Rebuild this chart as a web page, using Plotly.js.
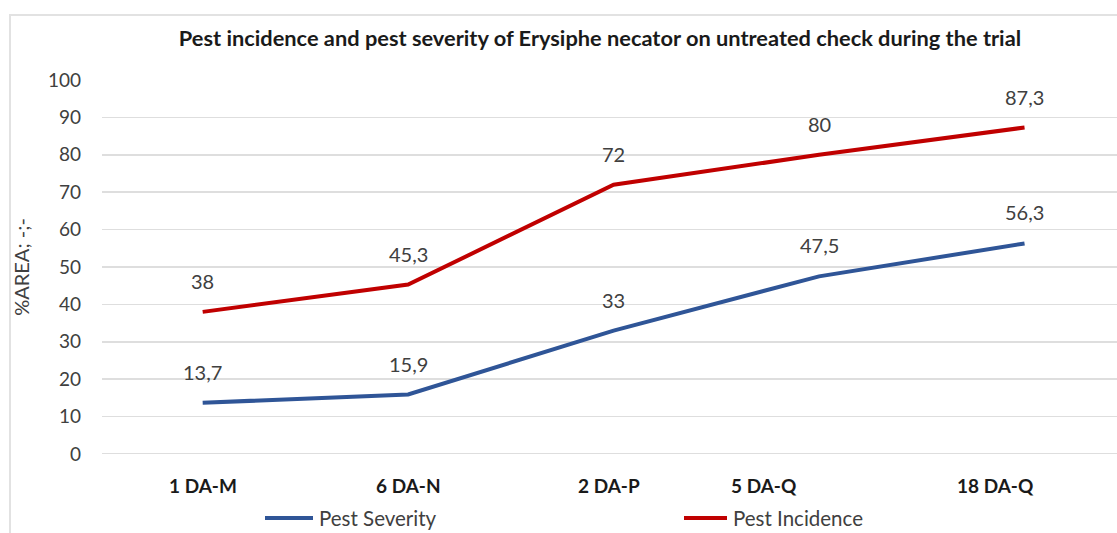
<!DOCTYPE html>
<html>
<head>
<meta charset="utf-8">
<script src="https://cdn.plot.ly/plotly-3.0.1.min.js"></script>
<style>
  html, body { margin: 0; padding: 0; background: #fff; }
  #wrap { position: relative; width: 1117px; height: 533px; overflow: hidden; }
  #chart { width: 1117px; height: 533px; }
  #frame { position: absolute; left: 9px; top: 14px; right: -5px; bottom: -5px;
           border-left: 2px solid #e2e2e2; border-top: 2px solid #e2e2e2; pointer-events: none; }
</style>
</head>
<body>
<div id="wrap">
  <div id="chart"></div>
  <div id="frame"></div>
</div>
<script>
const categories = ["1 DA-M", "6 DA-N", "2 DA-P", "5 DA-Q", "18 DA-Q"];
const pestSeverity = [13.7, 15.9, 33, 47.5, 56.3];
const pestIncidence = [38, 45.3, 72, 80, 87.3];
const yTicks = [0, 10, 20, 30, 40, 50, 60, 70, 80, 90, 100];
const seriesNames = ["Pest Severity", "Pest Incidence"];

// style
const colors = ["#2f5597", "#c00000"];
const labelXShift = [0, 0, -5, -55, -29];          // category label offsets (px)
const legendLinePx = [[265, 313], [684, 727]];      // legend sample positions (px)
const FONT = "Lato, 'Open Sans', sans-serif";
const W = 1117, H = 533, L = 102, R = 0, T = 80, B = 79;
const PW = W - L - R, PH = H - T - B;
const fmt = v => String(v).replace('.', ',');

const allSeries = [pestSeverity, pestIncidence];
const traces = allSeries.map((s, k) => ({
  x: categories, y: s, name: seriesNames[k], type: "scatter", mode: "lines",
  line: { color: colors[k], width: 4 }, showlegend: false
}));

const annotations = [];
allSeries.forEach(series => {
  series.forEach((v, i) => {
    annotations.push({ x: categories[i], y: v, xref: "x", yref: "y", text: fmt(v),
      showarrow: false, yshift: 31, yanchor: "middle",
      font: { family: FONT, size: 20, color: "#404040" } });
  });
});
categories.forEach((c, i) => {
  annotations.push({ x: c, y: 0, xref: "x", yref: "paper", text: "<b>" + c + "</b>",
    showarrow: false, yshift: -31, xshift: labelXShift[i], yanchor: "middle",
    font: { family: FONT, size: 19, color: "#1a1a1a" } });
});

// manual legend (line sample + name) built from series names and colours
const legendY = -(518 - (T + PH)) / PH;
const shapes = [{ type: "line", xref: "paper", yref: "y", x0: 0, x1: 1, y0: 0, y1: 0,
  line: { color: "#dedede", width: 2 }, layer: "below" }];
seriesNames.forEach((n, k) => {
  const [a, b] = legendLinePx[k];
  shapes.push({ type: "line", xref: "paper", yref: "paper",
    x0: (a - L) / PW, x1: (b - L) / PW, y0: legendY, y1: legendY,
    line: { color: colors[k], width: 4 } });
  annotations.push({ xref: "paper", yref: "paper", x: (b + 4 - L) / PW, y: legendY,
    xanchor: "left", yanchor: "middle", text: n, showarrow: false,
    font: { family: FONT, size: 20.5, color: "#404040" } });
});

const layout = {
  width: W, height: H,
  margin: { l: L, r: R, t: T, b: B, autoexpand: false },
  paper_bgcolor: "rgba(0,0,0,0)", plot_bgcolor: "#fff",
  font: { family: FONT, color: "#404040" },
  title: { text: "<b>Pest incidence and pest severity of Erysiphe necator on untreated check during the trial</b>",
    x: 600 / W, xref: "container", xanchor: "center", y: 1 - 38 / H, yref: "container", yanchor: "middle",
    font: { family: FONT, size: 21.8, color: "#1a1a1a" } },
  xaxis: { type: "category", range: [-0.49, 4.45], showticklabels: false, showgrid: false,
    zeroline: false, showline: false, ticks: "" },
  yaxis: { range: [0, 100], tickvals: yTicks, showgrid: true, gridcolor: "#dedede", gridwidth: 1.5,
    zeroline: false, showline: false, ticks: "", ticklabelstandoff: 20,
    tickfont: { family: FONT, size: 19, color: "#404040" },
    title: { text: "%AREA; -;-", standoff: 12, font: { family: FONT, size: 20, color: "#404040" } } },
  showlegend: false,
  annotations: annotations,
  shapes: shapes
};

Plotly.newPlot("chart", traces, layout, { displayModeBar: false, staticPlot: true });
</script>
</body>
</html>
